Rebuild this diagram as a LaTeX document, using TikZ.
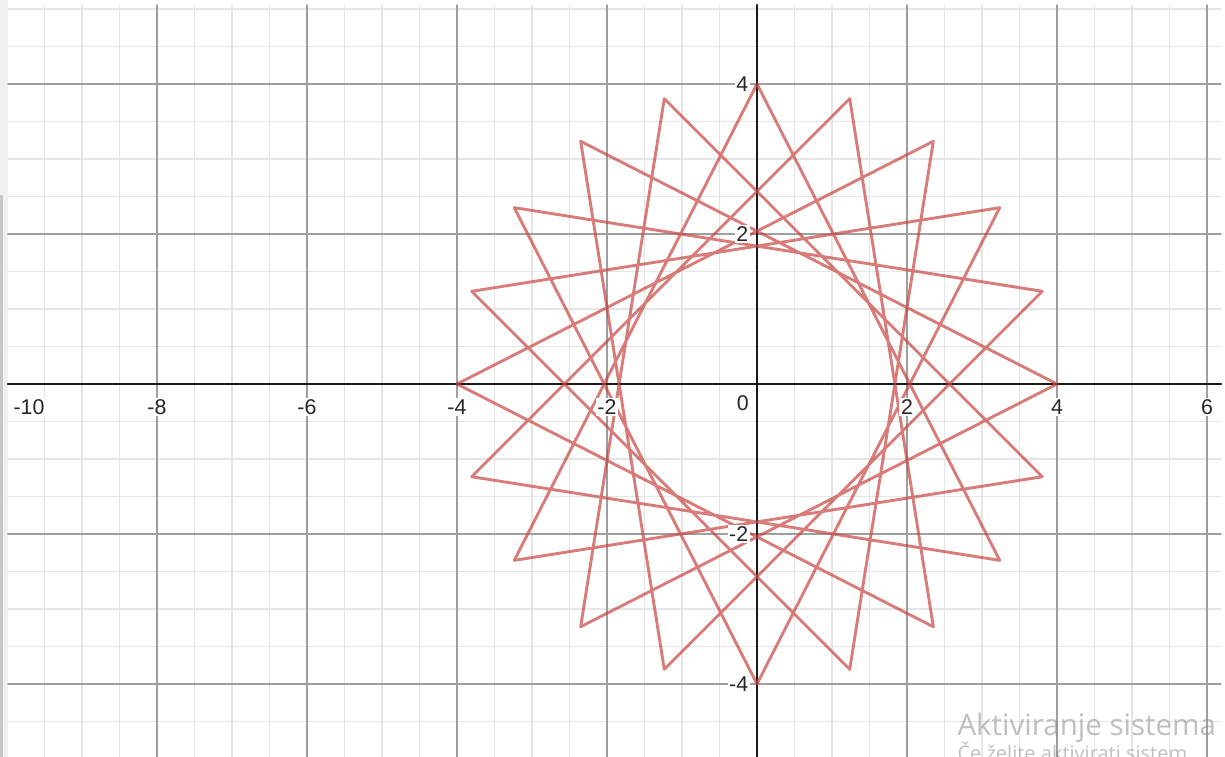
\documentclass[tikz,border=0pt]{standalone}
\usepackage{fontspec}
\setmainfont{Liberation Sans}
\newfontfamily\wmfont{Open Sans}
\definecolor{plotred}{RGB}{199,68,64}
\tikzset{
  minorgrid/.style={draw=black!10,line width=.45pt},
  majorgrid/.style={draw=black!38,line width=.5pt},
  axisline/.style={draw=black!90,line width=.8pt},
  ticklabel/.style={fill=white,inner sep=.6pt,text=black!85,font=\fontsize{8.1}{9}\selectfont},
  starline/.style={draw=plotred,draw opacity=.7,line width=1.1pt},
  wmtext/.style={inner sep=0pt,text=black!45,text opacity=.55,font=\wmfont},
}
\begin{document}
\begin{tikzpicture}[line join = round, line cap = round]
	\useasboundingbox (-10.093,-4.973) rectangle (6.24,5.12);
	\clip (-10.093,-4.973) rectangle (6.24,5.12);
	% window edge
	\fill[black!6] (-10.093,-4.973) rectangle (-9.987,5.12);
	\fill[black!22] (-10.093,-4.973) rectangle (-10.05,2.52);
	% grid and axes
	\draw[minorgrid,step=.5] (-9.987,-4.973) grid (6.187,5.053);
	\draw[majorgrid,step=2] (-9.987,-4.973) grid (6.187,5.053);
	\draw[axisline] (-9.987,0)--(6.187,0) (0,-4.973)--(0,5.053);
	% star {20/7}
	\foreach \k in {0,...,19} \coordinate (v\k) at (126*\k:4);
	\draw[starline] (v0) \foreach \k in {1,...,19}{--(v\k)} --cycle;
	% labels
	\path(-9.94,-.31)node[ticklabel,anchor=west](xlab0){-10};
	\foreach \x [count=\i] in {-8,-6,-4,-2,2,4,6}\path(\x,-.31)node[ticklabel](xlab\i){\x};
	\path(-.19,-.26)node[ticklabel](orig){0};
	\foreach \y [count=\i] in {-4,-2,2,4}\path(-.09,\y)node[ticklabel,anchor=east](ylab\i){\y};
	% watermark
	\path(2.667,-4.69)node[wmtext,anchor=base west,font=\wmfont\fontsize{11.2}{13}\selectfont](wm1){Aktiviranje sistema};
	\path(2.667,-5.02)node[wmtext,anchor=base west,font=\wmfont\fontsize{7.6}{9}\selectfont](wm2){Če želite aktivirati sistem};
\end{tikzpicture}
\end{document}
